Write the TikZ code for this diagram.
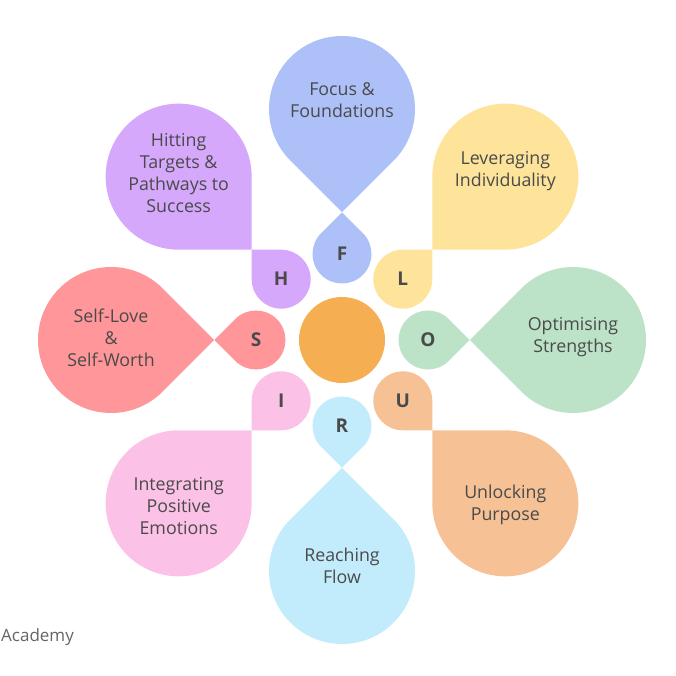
\documentclass[tikz,border=0pt]{standalone}
\usepackage{fontspec}
\setmainfont{Open Sans}
\usetikzlibrary{calc}
\definecolor{focusblue}{HTML}{ADC0F8}
\definecolor{leverageyellow}{HTML}{FEE39B}
\definecolor{optimgreen}{HTML}{BCE2C7}
\definecolor{unlockpeach}{HTML}{F6C194}
\definecolor{reachblue}{HTML}{C2ECFB}
\definecolor{integpink}{HTML}{FCC1E6}
\definecolor{selfred}{HTML}{FF9699}
\definecolor{hitpurple}{HTML}{D5A8FB}
\definecolor{hubor}{HTML}{F6AE52}
\definecolor{textgrey}{HTML}{4A4A4A}

\begin{document}
\begin{tikzpicture}[x=1pt,y=1pt,
  petal text/.style={text=textgrey,font=\fontsize{17.8}{22}\selectfont,align=center,inner sep=0},
  letter text/.style={text=textgrey,font=\fontsize{19}{20}\selectfont\bfseries,inner sep=0}]
  \useasboundingbox (0,0) rectangle (676,676);
  \coordinate (hub) at (342,336);
  \node[circle,fill=hubor,minimum size=86,inner sep=0] (core) at (hub) {};
  % small drops point out, big drops point in; tips meet at 128 from the hub
  \foreach \ang/\col/\ltr/\dy/\txt in {
      90/focusblue/F/9/{Focus \&\\Foundations},
      45/leverageyellow/L/6/{Leveraging\\Individuality},
      0/optimgreen/O/3/{Optimising\\Strengths},
      -45/unlockpeach/U/-2/{Unlocking\\Purpose},
      -90/reachblue/R/5/{Reaching\\Flow},
      -135/integpink/I/-3/{Integrating\\Positive\\Emotions},
      180/selfred/S/2/{Self-Love\\\&\\Self-Worth},
      135/hitpurple/H/4/{Hitting\\Targets \&\\Pathways to\\Success}} {
    \begin{scope}[shift={($(hub)+(\ang:86)$)},rotate=\ang]
      \fill[\col] (45:29.5) arc[start angle=45,end angle=315,radius=29.5] -- (41.7,0) -- cycle;
    \end{scope}
    \begin{scope}[shift={($(hub)+(\ang:231)$)},rotate=\ang+180]
      \fill[\col] (45:73) arc[start angle=45,end angle=315,radius=73] -- (103.2,0) -- cycle;
    \end{scope}
    \node[letter text] (ltr-\ltr) at ($(hub)+(\ang:86)$) {\ltr};
    \node[petal text] (txt-\ltr) at ($(hub)+(\ang:231)+(0,\dy)$) {\txt};
  }
  \node[anchor=base west,text=textgrey!85,font=\fontsize{17}{20}\selectfont,inner sep=0] (brand) at (1,34) {Academy};
\end{tikzpicture}
\end{document}
